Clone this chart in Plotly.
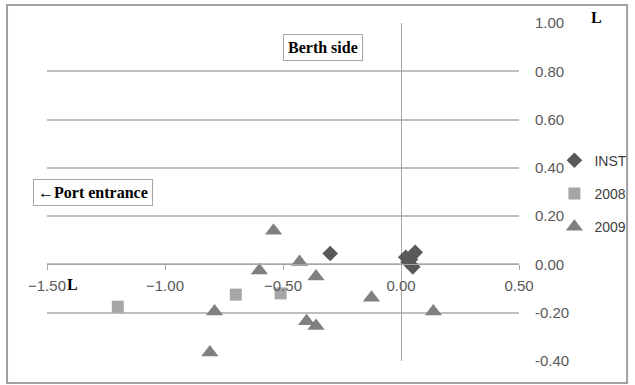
import plotly.graph_objects as go

# ---- data ----
inst_x = [-0.30, 0.02, 0.04, 0.06, 0.05, 0.03]
inst_y = [0.045, 0.03, 0.02, 0.05, -0.01, 0.01]

y2008_x = [-1.20, -0.70, -0.51]
y2008_y = [-0.175, -0.125, -0.12]

y2009_x = [-0.54, -0.60, -0.43, -0.36, -0.79, -0.81, -0.40, -0.36, -0.125, 0.137]
y2009_y = [0.14, -0.025, 0.01, -0.05, -0.195, -0.365, -0.235, -0.255, -0.138, -0.195]

x_ticks = [-1.5, -1.0, -0.5, 0.0, 0.5]
y_ticks = [-0.4, -0.2, 0.0, 0.2, 0.4, 0.6, 0.8, 1.0]
y_ticktext = ["-0.40", "-0.20", "0.00", "0.20", "0.40", "0.60", "0.80", "1.00"]
x_range = [-1.5, 0.5]
y_range = [-0.4, 1.0]

series_names = ["INST", "2008", "2009"]

fig = go.Figure()
fig.add_trace(go.Scatter(x=inst_x, y=inst_y, mode="markers", name=series_names[0],
                         legendgroup="a",
                         marker=dict(symbol="diamond", size=12, color="#595959")))
fig.add_trace(go.Scatter(x=y2008_x, y=y2008_y, mode="markers", name=series_names[1],
                         legendgroup="b",
                         marker=dict(symbol="square", size=12, color="#A6A6A6")))
fig.add_trace(go.Scatter(x=y2009_x, y=y2009_y, mode="markers", name=series_names[2],
                         legendgroup="c",
                         marker=dict(symbol="triangle-up", size=15, color="#808080")))

axis_font = dict(family="Liberation Sans, Arial, sans-serif", size=15, color="#595959")
xpos = (0 - y_range[0]) / (y_range[1] - y_range[0])

fig.update_layout(
    width=635, height=385,
    margin=dict(l=47, r=116, t=23, b=24, autoexpand=False),
    paper_bgcolor="white", plot_bgcolor="white",
    showlegend=True,
    legend=dict(x=1.075, y=0.64, xanchor="left", yanchor="top",
                font=dict(family="Liberation Sans, Arial, sans-serif", size=14, color="#404040"),
                traceorder="grouped", tracegroupgap=12, itemwidth=30,
                bgcolor="rgba(0,0,0,0)"),
    xaxis=dict(range=x_range, tickvals=x_ticks, tickformat=".2f",
               showgrid=False, zeroline=True, zerolinecolor="#A6A6A6", zerolinewidth=1,
               anchor="free", position=xpos,
               showline=True, linecolor="#A6A6A6", linewidth=1,
               ticks="outside", ticklen=5, tickcolor="#A6A6A6",
               ticklabelstandoff=3, tickfont=axis_font),
    yaxis=dict(range=y_range, tickvals=y_ticks, ticktext=y_ticktext,
               side="right", showgrid=True, gridcolor="#BFBFBF", gridwidth=1.5,
               zeroline=False, showline=False, ticks="",
               ticklabelstandoff=15, tickfont=axis_font),
    font=axis_font,
)

serif = dict(family="Liberation Serif, Times New Roman, serif", size=16, color="#000000")
fig.add_annotation(x=-0.33, y=0.90, xref="x", yref="y", text="<b>Berth side</b>",
                   showarrow=False, font=serif, bordercolor="#A6A6A6", borderwidth=1,
                   borderpad=4, bgcolor="white")
fig.add_annotation(x=-1.305, y=0.30, xref="x", yref="y", text="<b>\u2190Port entrance</b>",
                   showarrow=False, font=serif, bordercolor="#A6A6A6", borderwidth=1,
                   borderpad=4, bgcolor="white")
fig.add_annotation(x=1.165, y=1.015, xref="paper", yref="paper", text="<b>L</b>",
                   xanchor="center", yanchor="middle", showarrow=False, font=serif)
fig.add_annotation(x=-1.39, y=-0.083, xref="x", yref="y", text="<b>L</b>",
                   xanchor="center", yanchor="middle", showarrow=False, font=serif)

# outer chart border
fig.add_shape(type="rect", xref="paper", yref="paper",
              x0=-0.0847, x1=1.229, y0=-0.065, y1=1.053,
              line=dict(color="#A0A0A0", width=2))

fig.write_html("out.html", config={"displayModeBar": False},
               post_script="document.body.style.margin='0';document.body.style.padding='0';")
